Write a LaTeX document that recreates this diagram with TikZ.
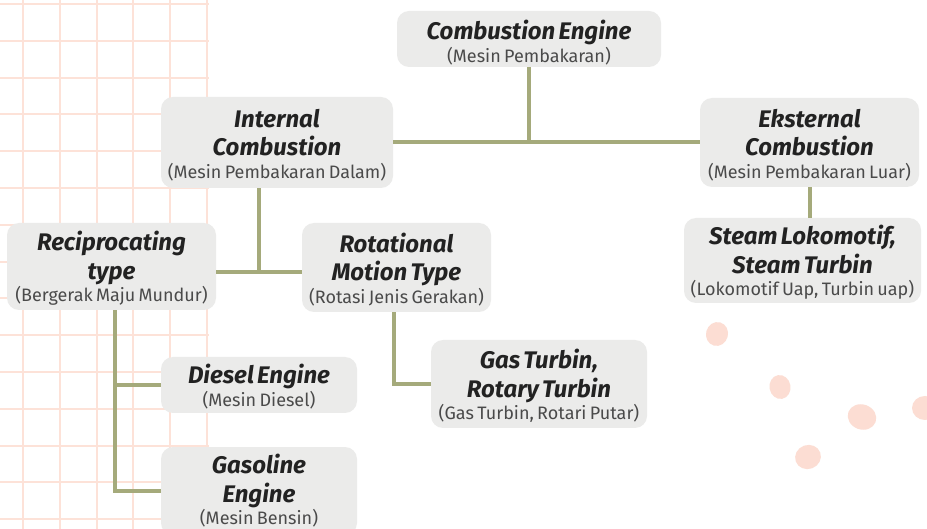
\documentclass[tikz,border=0pt]{standalone}
\usepackage{fontspec}
\setmainfont{Fira Sans}
\definecolor{boxc}{HTML}{EBEBEA}
\definecolor{linec}{HTML}{A5AA7B}
\definecolor{gridc}{HTML}{FDE2D8}
\definecolor{dotc}{HTML}{FCDDD3}
\definecolor{titc}{HTML}{222222}
\definecolor{subc}{HTML}{4A4A4A}
\newcommand\ttl{\fontsize{24}{28.5}\selectfont\bfseries\itshape\color{titc}\rule{0pt}{23pt}}
\newcommand\ttlplain{\fontsize{24}{28.5}\selectfont\bfseries\itshape\color{titc}}
\newcommand\sbt{\fontsize{18}{22.5}\selectfont\color{subc}}
\tikzset{
  box/.style={fill=boxc, rounded corners=12pt, inner sep=0pt, align=center, anchor=center},
  link/.style={draw=linec, line width=4pt},
  gridline/.style={draw=gridc, line width=2pt},
  blob/.style={fill=dotc}
}
\begin{document}
\begin{tikzpicture}[x=1pt,y=-1pt]
\useasboundingbox (0,0) rectangle (927,529);
\fill[white] (0,0) rectangle (927,529);
% grid
\foreach \k in {0,...,5} { \draw[gridline] ({23+36.8*\k},0) -- ({23+36.8*\k},529); }
\foreach \k in {0,...,14} { \draw[gridline] (0,{4+36.8*\k}) -- (209,{4+36.8*\k}); }
% blobs
\fill[blob, rotate around={-15:(717,334)}] (717,334) ellipse (11pt and 12pt);
\fill[blob, rotate around={10:(780,387)}] (780,387) ellipse (10.5pt and 12pt);
\fill[blob, rotate around={-20:(862,417)}] (862,417) ellipse (14.5pt and 12.5pt);
\fill[blob, rotate around={20:(808,457)}] (808,457) ellipse (13pt and 12pt);
\fill[blob] (925,408) ellipse (13pt and 12pt);
% boxes
\node[box, minimum width=264pt, minimum height=56pt, text width=264pt] (ce) at (529,39)
  {{\ttl\rule{0pt}{27pt}Combustion Engine\par}{\sbt (Mesin Pembakaran)\par}};
\node[box, minimum width=232pt, minimum height=91pt, text width=232pt] (ic) at (277,142.5)
  {{\ttl Internal\\Combustion\par}{\sbt (Mesin Pembakaran Dalam)\par}};
\node[box, minimum width=219pt, minimum height=89pt, text width=219pt] (ec) at (809.5,142.5)
  {{\ttl Eksternal\\Combustion\par}{\sbt (Mesin Pembakaran Luar)\par}};
\node[box, minimum width=209pt, minimum height=87pt, text width=209pt] (rt) at (111.5,266.5)
  {{\ttl Reciprocating\\type\par}{\sbt (Bergerak Maju Mundur)\par}};
\node[box, minimum width=189pt, minimum height=89pt, text width=189pt] (rm) at (396.5,267.5)
  {{\ttl Rotational\\Motion Type\par}{\sbt (Rotasi Jenis Gerakan)\par}};
\node[box, minimum width=237pt, minimum height=85pt, text width=237pt] (st) at (802.5,260.5)
  {{\ttl Steam Lokomotif,\\Steam Turbin\par}{\sbt (Lokomotif Uap, Turbin uap)\par}};
\node[box, minimum width=196pt, minimum height=56pt, text width=196pt] (de) at (259,385)
  {{\ttl Diesel Engine\par}{\sbt (Mesin Diesel)\par}};
\node[box, minimum width=216pt, minimum height=88pt, text width=216pt] (gt) at (539,384)
  {{\ttl Gas Turbin,\\Rotary Turbin\par}{\sbt (Gas Turbin, Rotari Putar)\par}};
\node[box, minimum width=196pt, minimum height=88pt, text width=196pt] (ge) at (259,491)
  {{\ttlplain Gasoline\\Engine\par}{\sbt (Mesin Bensin)\par}};
% connectors
\coordinate (j1) at (259,272);
\coordinate (j2) at (115,0);
\coordinate (j3) at (394,0);
\draw[link] (ce.south) -- (ce.south |- ic.east);
\draw[link] (ic.east) -- (ec.west);
\draw[link] (ec.south) -- (ec.south |- st.north);
\draw[link] (j1 |- ic.south) -- (j1);
\draw[link] (rt.east |- j1) -- (rm.west |- j1);
\draw[link] (j2 |- rt.south) -- (j2 |- ge.west) -- (ge.west);
\draw[link] (j2 |- de.west) -- (de.west);
\draw[link] (j3 |- rm.south) -- (j3 |- gt.west) -- (gt.west);
\end{tikzpicture}
\end{document}
